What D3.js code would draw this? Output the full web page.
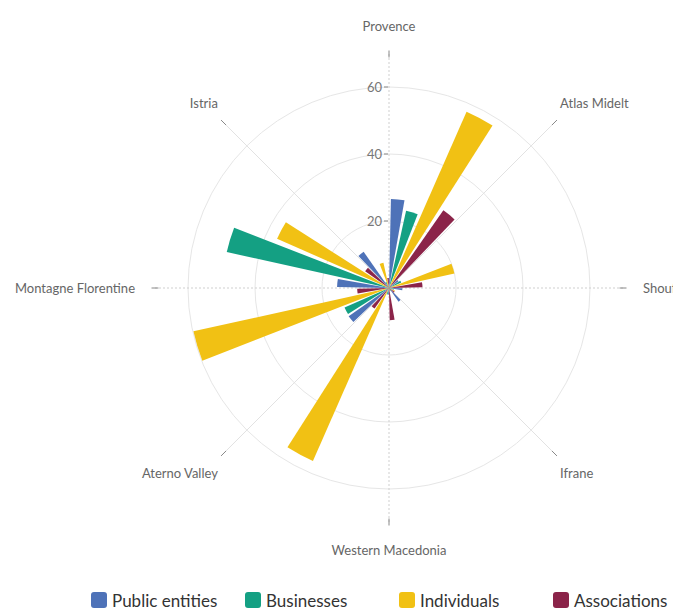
<!DOCTYPE html>
<html>
<head>
<meta charset="utf-8">
<script src="https://cdn.jsdelivr.net/npm/d3@7"></script>
<style>
  html, body { margin: 0; padding: 0; background: #fff; overflow: hidden; }
  svg { display: block; font-family: Lato, "Open Sans", sans-serif; }
</style>
</head>
<body>
<svg id="chart" width="673" height="611"></svg>
<script>
const categories = ["Provence", "Atlas Midelt", "Shouf", "Ifrane", "Western Macedonia", "Aterno Valley", "Montagne Florentine", "Istria"];
const seriesNames = ["Public entities", "Businesses", "Individuals", "Associations"];
const publicEntities = [26.6, 3.5, 4, 5, 2, 14.7, 15.5, 13.2];
const businesses     = [23.6, 4, 1.5, 1, 2, 14.5, 49.6, 2];
const individuals    = [57.5, 20, 2, 1, 56.4, 59.8, 36.5, 7.7];
const associations   = [28.3, 10, 2, 9.6, 7.5, 9.5, 8.7, 3];
const radialTicks = [20, 40, 60];
const colors = ["#4e72b8", "#14a083", "#f1c114", "#8b2449"];

const seriesValues = [publicEntities, businesses, individuals, associations];

const svg = d3.select("#chart");
const cx = 389, cy = 288;
const rScale = d3.scaleLinear().domain([0, 70]).range([0, 234.5]);
const maxR = rScale(70);

const catAngle = d3.scaleBand().domain(categories).range([0, 2 * Math.PI]);
const subAngle = d3.scaleBand().domain(seriesNames).range([0, catAngle.bandwidth()])
  .paddingInner(0.22).paddingOuter(0.11);

const g = svg.append("g").attr("transform", `translate(${cx},${cy})`);

// grid circles
g.selectAll("circle.grid").data(radialTicks).join("circle")
  .attr("class", "grid")
  .attr("r", d => rScale(d))
  .attr("fill", "none")
  .attr("stroke", "#e6e6e6")
  .attr("stroke-width", 1);

// spokes
categories.forEach((c, i) => {
  const a = catAngle(c);
  const sx = Math.sin(a), sy = -Math.cos(a);
  const ortho = Math.abs(sx) < 0.01 || Math.abs(sy) < 0.01;
  g.append("line")
    .attr("x1", 0).attr("y1", 0)
    .attr("x2", sx * maxR).attr("y2", sy * maxR)
    .attr("stroke", ortho ? "#cfcfcf" : "#e2e2e2")
    .attr("stroke-width", 1)
    .attr("stroke-dasharray", ortho ? "2,2" : null);
  g.append("line")
    .attr("x1", sx * (maxR - 4)).attr("y1", sy * (maxR - 4))
    .attr("x2", sx * (maxR + 3)).attr("y2", sy * (maxR + 3))
    .attr("stroke", "#888")
    .attr("stroke-width", 1);
});

// bars
const arc = d3.arc();
seriesNames.forEach((s, si) => {
  g.append("g").selectAll("path").data(categories).join("path")
    .attr("d", (c, ci) => arc({
      innerRadius: 0,
      outerRadius: rScale(seriesValues[si][ci]),
      startAngle: catAngle(c) + subAngle(s),
      endAngle: catAngle(c) + subAngle(s) + subAngle.bandwidth()
    }))
    .attr("fill", colors[si]);
});

// radial axis ticks and labels
radialTicks.forEach(t => {
  g.append("line")
    .attr("x1", -5).attr("x2", -1)
    .attr("y1", -rScale(t)).attr("y2", -rScale(t))
    .attr("stroke", "#888");
  g.append("text")
    .attr("x", -7).attr("y", -rScale(t))
    .attr("text-anchor", "end")
    .attr("dominant-baseline", "central")
    .attr("font-size", 13)
    .attr("fill", "#777")
    .text(t);
});

// category labels
categories.forEach(c => {
  const a = catAngle(c);
  const sx = Math.sin(a), sy = -Math.cos(a);
  let x = sx * 242, y = sy * 262;
  let anchor = "middle";
  if (sx > 0.1) anchor = "start";
  else if (sx < -0.1) anchor = "end";
  if (Math.abs(sy) < 0.01) x += Math.sign(sx) * 12;
  g.append("text")
    .attr("x", x).attr("y", y)
    .attr("text-anchor", anchor)
    .attr("dominant-baseline", "central")
    .attr("font-size", 13)
    .attr("fill", "#666")
    .text(c);
});

// legend
const legend = svg.append("g").attr("transform", "translate(91,600)");
seriesNames.forEach((s, i) => {
  const lg = legend.append("g").attr("transform", `translate(${i * 154},0)`);
  lg.append("rect")
    .attr("x", 0).attr("y", -8)
    .attr("width", 16).attr("height", 16)
    .attr("rx", 3)
    .attr("fill", colors[i]);
  lg.append("text")
    .attr("x", 21).attr("y", 0)
    .attr("dominant-baseline", "central")
    .attr("font-size", 17)
    .attr("fill", "#333")
    .text(s);
});
</script>
</body>
</html>
